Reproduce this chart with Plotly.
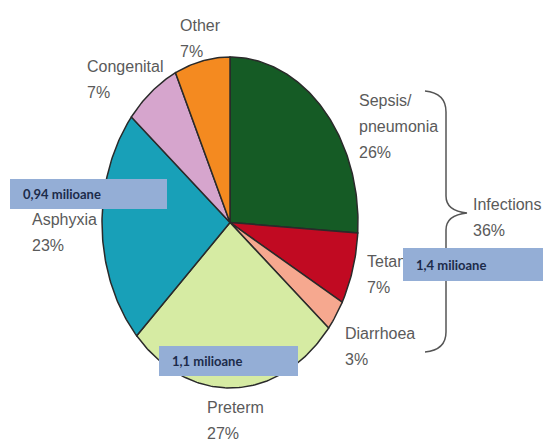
import numpy as np
import plotly.graph_objects as go

# ---- data ----
causes = ["Sepsis/pneumonia", "Tetanus", "Diarrhoea", "Preterm", "Asphyxia", "Congenital", "Other"]
shares = [26, 7, 3, 27, 23, 7, 7]
infection_causes = ["Sepsis/pneumonia", "Tetanus", "Diarrhoea"]
group_label = "Infections"
box_texts = ["0,94 milioane", "1,4 milioane", "1,1 milioane"]

# ---- style ----
colors = {
    "Sepsis/pneumonia": "#155b25",
    "Tetanus": "#c10a22",
    "Diarrhoea": "#f6a88f",
    "Preterm": "#d6eba3",
    "Asphyxia": "#18a0b8",
    "Congenital": "#d6a5cd",
    "Other": "#f48a20",
}
W, H = 543, 443
CX, CY, RX, RY = 230, 222.5, 128, 165.5
FONT = "Liberation Sans Narrow, Liberation Sans, Arial, sans-serif"
TXT = "#5a5a5a"
FS = 16
LINE_GAP = 26

label_pos = {  # left x, first-line y (pixels)
    "Sepsis/pneumonia": (357, 100),
    "Tetanus": (365, 261),
    "Diarrhoea": (343, 333),
    "Preterm": (205, 407),
    "Asphyxia": (30, 219),
    "Congenital": (85, 66),
    "Other": (178, 25),
}
display_lines = {"Sepsis/pneumonia": ["Sepsis/", "pneumonia"]}
group_pos = (471, 204)
box_geo = [  # x0, x1, y0, y1 (pixels)
    (10, 167, 179, 209),
    (403, 545, 248, 281),
    (159, 298, 346, 376),
]

fig = go.Figure()

total = sum(shares)
start = 0.0
for name, v in zip(causes, shares):
    end = start + v / total * 2 * np.pi
    t = np.linspace(start, end, max(int(v * 4), 8))
    xs = np.concatenate([[CX], CX + RX * np.sin(t), [CX]])
    ys = np.concatenate([[CY], CY - RY * np.cos(t), [CY]])
    fig.add_trace(go.Scatter(
        x=xs, y=ys, mode="lines", fill="toself",
        fillcolor=colors[name], line=dict(color="#2a2a2a", width=1.5),
        hoverinfo="skip", name=name,
    ))
    start = end

annotations = []
for name, v in zip(causes, shares):
    x0, y0 = label_pos[name]
    lines = display_lines.get(name, [name]) + [f"{v}%"]
    for i, ln in enumerate(lines):
        annotations.append(dict(
            x=x0, y=y0 + i * LINE_GAP, xref="x", yref="y", text=ln,
            showarrow=False, xanchor="left", yanchor="middle",
            font=dict(family=FONT, size=FS, color=TXT),
        ))

grp_total = sum(v for n, v in zip(causes, shares) if n in infection_causes)
for i, ln in enumerate([group_label, f"{grp_total}%"]):
    annotations.append(dict(
        x=group_pos[0], y=group_pos[1] + i * LINE_GAP, xref="x", yref="y", text=ln,
        showarrow=False, xanchor="left", yanchor="middle",
        font=dict(family=FONT, size=FS, color=TXT),
    ))

for txt, (x0, x1, y0, y1) in zip(box_texts, box_geo):
    annotations.append(dict(
        x=(x0 + x1) / 2, y=(y0 + y1) / 2, xref="x", yref="y", text=" ",
        showarrow=False, xanchor="center", yanchor="middle",
        width=x1 - x0, height=y1 - y0, bgcolor="#94aed6",
        borderpad=0, borderwidth=0,
    ))
    annotations.append(dict(
        x=x0 + 11, y=(y0 + y1) / 2, xref="x", yref="y", text=f"<b>{txt}</b>",
        showarrow=False, xanchor="left", yanchor="middle",
        font=dict(family="Lato, Open Sans, sans-serif", size=13, color="#1c2b4a"),
    ))

brace = ("M 425,91 Q 446,93 446,112 L 446,196 Q 446,211 467,213 "
         "Q 446,215 446,230 L 446,332 Q 446,350 425,352")

fig.update_layout(
    width=W, height=H, margin=dict(l=0, r=0, t=0, b=0),
    paper_bgcolor="white", plot_bgcolor="white", showlegend=False,
    xaxis=dict(range=[0, W], visible=False, fixedrange=True),
    yaxis=dict(range=[H, 0], visible=False, fixedrange=True),
    annotations=annotations,
    shapes=[dict(type="path", path=brace, xref="x", yref="y",
                 line=dict(color="#555555", width=1.5))],
)

fig.write_html("out.html")
